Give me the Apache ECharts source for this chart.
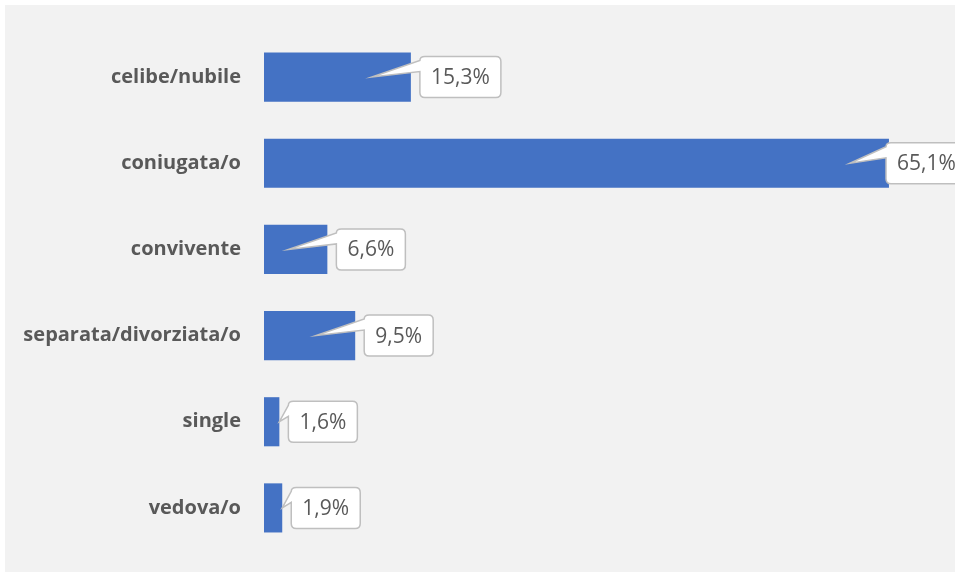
<!DOCTYPE html>
<html>
<head>
<meta charset="utf-8">
<script src="https://cdn.jsdelivr.net/npm/echarts@6/dist/echarts.min.js"></script>
<style>
html,body{margin:0;padding:0;background:#ffffff;width:955px;height:577px;overflow:hidden;}
#chart{position:absolute;left:5px;top:5px;width:950px;height:567px;background:#f2f2f2;}
</style>
</head>
<body>
<div id="chart"></div>
<script>
const categories = ['celibe/nubile','coniugata/o','convivente','separata/divorziata/o','single','vedova/o'];
const values = [15.3, 65.1, 6.6, 9.5, 1.6, 1.9];
const valueLabels = ['15,3%','65,1%','6,6%','9,5%','1,6%','1,9%'];

const LABEL_FONT = '21px "Open Sans"';
const measureCanvas = document.createElement('canvas').getContext('2d');
function textWidth(t){ measureCanvas.font = LABEL_FONT; return measureCanvas.measureText(t).width; }

const chart = echarts.init(document.getElementById('chart'), null, {renderer:'canvas'});

function renderCallout(params, api){
  const idx = api.value(1);
  const v = api.value(0);
  const end = api.coord([v, idx]);
  const start = api.coord([0, idx]);
  const xe = end[0], yc = end[1];
  const barW = xe - start[0];
  const txt = valueLabels[params.dataIndex];
  const W = Math.round(textWidth(txt) + 22);
  const H = 41;
  const L = Math.min(xe + 9, api.getWidth() - 69);
  const T = yc - H/2;
  const r = 5;
  const tx = barW > 45 ? xe - 39 : xe;
  const ty = yc;
  const y1 = T + 4, y2 = T + 15;
  const d = [
    'M', L + r, T,
    'L', L + W - r, T,
    'Q', L + W, T, L + W, T + r,
    'L', L + W, T + H - r,
    'Q', L + W, T + H, L + W - r, T + H,
    'L', L + r, T + H,
    'Q', L, T + H, L, T + H - r,
    'L', L, y2,
    'L', tx, ty,
    'L', L, y1,
    'Q', L, T, L + r, T,
    'Z'
  ].join(' ');
  return {
    type: 'group',
    children: [
      {
        type: 'path',
        shape: { pathData: d },
        style: { fill: '#ffffff', stroke: '#bfbfbf', lineWidth: 1.5 }
      },
      {
        type: 'text',
        style: {
          text: txt,
          x: L + W/2,
          y: yc + 1,
          align: 'center',
          verticalAlign: 'middle',
          font: LABEL_FONT,
          fill: '#595959'
        }
      }
    ]
  };
}

chart.setOption({
  animation: false,
  backgroundColor: 'transparent',
  grid: { left: 259, top: 29, width: 672, height: 517, containLabel: false },
  xAxis: {
    type: 'value', min: 0, max: 70,
    show: false, splitLine: { show: false }
  },
  yAxis: {
    type: 'category', data: categories, inverse: true,
    axisLine: { show: false }, axisTick: { show: false },
    axisLabel: {
      margin: 23, color: '#595959',
      fontFamily: 'Open Sans', fontWeight: 'bold', fontSize: 20
    }
  },
  series: [
    {
      type: 'bar',
      data: values,
      barCategoryGap: '43%',
      itemStyle: { color: '#4472c4' },
      silent: true
    },
    {
      type: 'custom',
      renderItem: renderCallout,
      data: values.map((v, i) => [v, i]),
      encode: { x: 0, y: 1 },
      clip: false,
      z: 10,
      silent: true
    }
  ]
});
</script>
</body>
</html>
